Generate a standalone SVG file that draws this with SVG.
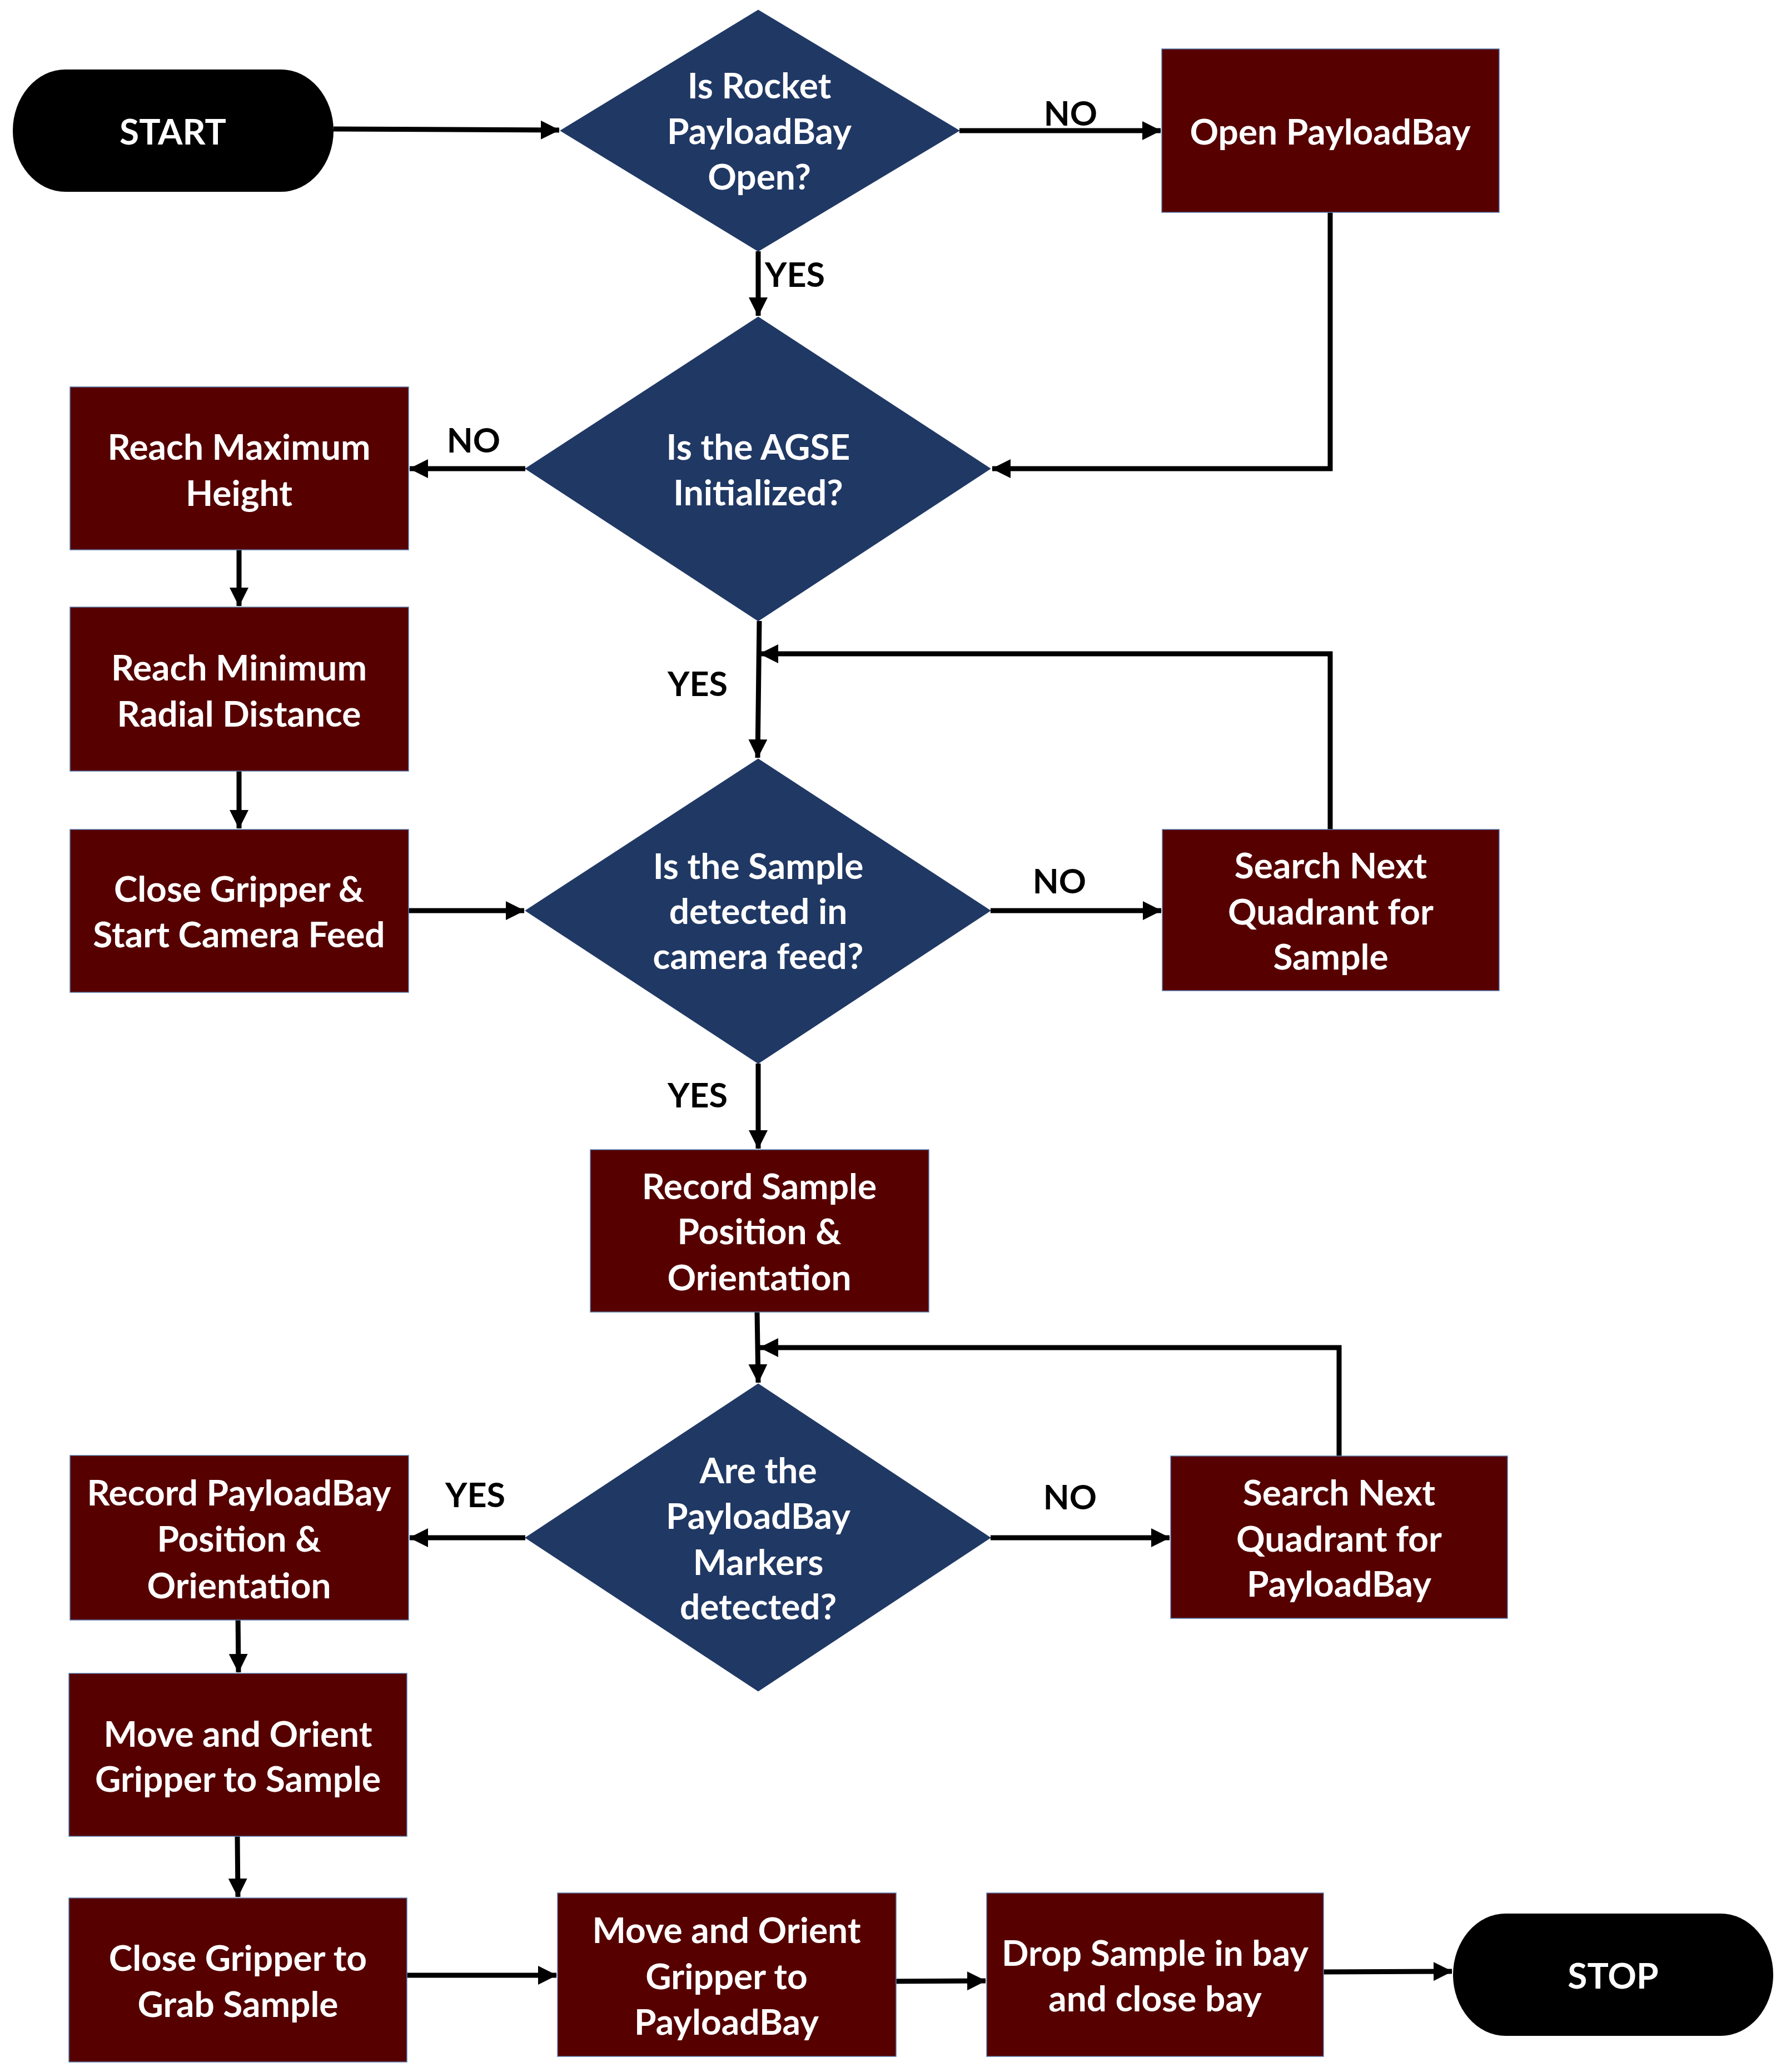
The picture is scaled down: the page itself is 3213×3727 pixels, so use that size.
<svg xmlns="http://www.w3.org/2000/svg" width="3213" height="3727" viewBox="0 0 3213 3727">
<defs>
<style>
.box{fill:#560000;stroke:#5b7fb0;stroke-width:1.5}
.dia{fill:#203864;stroke:#203864;stroke-width:1}
.term{fill:#000000}
.t{font-family:Lato,"Liberation Sans",sans-serif;font-weight:bold;font-size:64px;fill:#ffffff;text-anchor:middle}
.lbl{font-family:Lato,"Liberation Sans",sans-serif;font-weight:bold;font-size:61px;fill:#000000;text-anchor:middle}
.c{fill:none;stroke:#000000;stroke-width:9}
</style>
<marker id="ah" markerUnits="userSpaceOnUse" markerWidth="34" markerHeight="34" viewBox="0 0 34 34" refX="33" refY="17" orient="auto">
<path d="M0,0 L34,17 L0,34 z" fill="#000000"/>
</marker>
</defs>
<rect width="3213" height="3727" fill="#ffffff"/>

<g id="connectors">
<path class="c" d="M600,232 L1006,234" marker-end="url(#ah)"/>
<path class="c" d="M1726,235 L2088,235" marker-end="url(#ah)"/>
<path class="c" d="M1364,452 L1364,568" marker-end="url(#ah)"/>
<path class="c" d="M2393,382 L2393,843 L1785,843" marker-end="url(#ah)"/>
<path class="c" d="M945,843 L737,843" marker-end="url(#ah)"/>
<path class="c" d="M430,989 L430,1090" marker-end="url(#ah)"/>
<path class="c" d="M430,1387 L430,1490" marker-end="url(#ah)"/>
<path class="c" d="M735,1638 L943,1638" marker-end="url(#ah)"/>
<path class="c" d="M1366,1117 L1363,1363" marker-end="url(#ah)"/>
<path class="c" d="M2393,1492 L2393,1176 L1367,1176" marker-end="url(#ah)"/>
<path class="c" d="M1782,1638 L2089,1638" marker-end="url(#ah)"/>
<path class="c" d="M1364,1913 L1364,2066" marker-end="url(#ah)"/>
<path class="c" d="M1362,2360 L1364,2487" marker-end="url(#ah)"/>
<path class="c" d="M2409,2619 L2409,2424 L1367,2424" marker-end="url(#ah)"/>
<path class="c" d="M945,2766 L737,2766" marker-end="url(#ah)"/>
<path class="c" d="M1782,2766 L2104,2766" marker-end="url(#ah)"/>
<path class="c" d="M428,2899 L429,3008" marker-end="url(#ah)"/>
<path class="c" d="M427,3303 L428,3412" marker-end="url(#ah)"/>
<path class="c" d="M732,3553 L1001,3553" marker-end="url(#ah)"/>
<path class="c" d="M1583,3564 L1773,3563" marker-end="url(#ah)"/>
<path class="c" d="M2381,3547 L2612,3546" marker-end="url(#ah)"/>
</g>

<g id="labels">
<text class="lbl" x="1926" y="226">NO</text>
<text class="lbl" x="1430" y="516">YES</text>
<text class="lbl" x="852" y="814">NO</text>
<text class="lbl" x="1255" y="1252">YES</text>
<text class="lbl" x="1906" y="1607">NO</text>
<text class="lbl" x="1255" y="1992">YES</text>
<text class="lbl" x="855" y="2711">YES</text>
<text class="lbl" x="1925" y="2715">NO</text>
</g>

<g id="start">
<rect class="term" x="23" y="125" width="577" height="220" rx="95" ry="110"/>
<text class="t" x="311" y="260">START</text>
</g>

<g id="d1">
<polygon class="dia" points="1364,18 1726,235 1364,452 1008,235"/>
<text class="t" x="1366" y="177">Is Rocket</text>
<text class="t" x="1366" y="259">PayloadBay</text>
<text class="t" x="1366" y="341">Open?</text>
</g>

<g id="open-bay">
<rect class="box" x="2090" y="88" width="607" height="294"/>
<text class="t" x="2393" y="260">Open PayloadBay</text>
</g>

<g id="d2">
<polygon class="dia" points="1364,570 1782,843 1364,1117 945,843"/>
<text class="t" x="1364" y="827">Is the AGSE</text>
<text class="t" x="1364" y="909">Initialized?</text>
</g>

<g id="max-height">
<rect class="box" x="126" y="696" width="609" height="293"/>
<text class="t" x="430" y="827">Reach Maximum</text>
<text class="t" x="430" y="910">Height</text>
</g>

<g id="min-radial">
<rect class="box" x="126" y="1092" width="609" height="295"/>
<text class="t" x="430" y="1224">Reach Minimum</text>
<text class="t" x="430" y="1307">Radial Distance</text>
</g>

<g id="close-gripper-camera">
<rect class="box" x="126" y="1492" width="609" height="293"/>
<text class="t" x="430" y="1622">Close Gripper &amp;</text>
<text class="t" x="430" y="1704">Start Camera Feed</text>
</g>

<g id="d3">
<polygon class="dia" points="1364,1365 1782,1638 1364,1913 945,1638"/>
<text class="t" x="1364" y="1581">Is the Sample</text>
<text class="t" x="1364" y="1662">detected in</text>
<text class="t" x="1364" y="1743">camera feed?</text>
</g>

<g id="search-sample">
<rect class="box" x="2091" y="1492" width="606" height="290"/>
<text class="t" x="2394" y="1580">Search Next</text>
<text class="t" x="2394" y="1663">Quadrant for</text>
<text class="t" x="2394" y="1744">Sample</text>
</g>

<g id="record-sample">
<rect class="box" x="1062" y="2068" width="609" height="292"/>
<text class="t" x="1366" y="2157">Record Sample</text>
<text class="t" x="1366" y="2238">Position &amp;</text>
<text class="t" x="1366" y="2321">Orientation</text>
</g>

<g id="d4">
<polygon class="dia" points="1364,2489 1782,2766 1364,3042 945,2766"/>
<text class="t" x="1364" y="2668">Are the</text>
<text class="t" x="1364" y="2750">PayloadBay</text>
<text class="t" x="1364" y="2833">Markers</text>
<text class="t" x="1364" y="2913">detected?</text>
</g>

<g id="record-bay">
<rect class="box" x="126" y="2618" width="609" height="296"/>
<text class="t" x="430" y="2708">Record PayloadBay</text>
<text class="t" x="430" y="2791">Position &amp;</text>
<text class="t" x="430" y="2875">Orientation</text>
</g>

<g id="search-bay">
<rect class="box" x="2106" y="2619" width="606" height="292"/>
<text class="t" x="2409" y="2708">Search Next</text>
<text class="t" x="2409" y="2791">Quadrant for</text>
<text class="t" x="2409" y="2872">PayloadBay</text>
</g>

<g id="move-to-sample">
<rect class="box" x="124" y="3010" width="608" height="293"/>
<text class="t" x="428" y="3142">Move and Orient</text>
<text class="t" x="428" y="3223">Gripper to Sample</text>
</g>

<g id="grab-sample">
<rect class="box" x="124" y="3414" width="608" height="295"/>
<text class="t" x="428" y="3545">Close Gripper to</text>
<text class="t" x="428" y="3628">Grab Sample</text>
</g>

<g id="move-to-bay">
<rect class="box" x="1003" y="3405" width="609" height="294"/>
<text class="t" x="1307" y="3495">Move and Orient</text>
<text class="t" x="1307" y="3578">Gripper to</text>
<text class="t" x="1307" y="3660">PayloadBay</text>
</g>

<g id="drop-sample">
<rect class="box" x="1775" y="3405" width="606" height="294"/>
<text class="t" x="2078" y="3536">Drop Sample in bay</text>
<text class="t" x="2078" y="3618">and close bay</text>
</g>

<g id="stop">
<rect class="term" x="2614" y="3442" width="576" height="220" rx="95" ry="110"/>
<text class="t" x="2902" y="3577">STOP</text>
</g>
</svg>
